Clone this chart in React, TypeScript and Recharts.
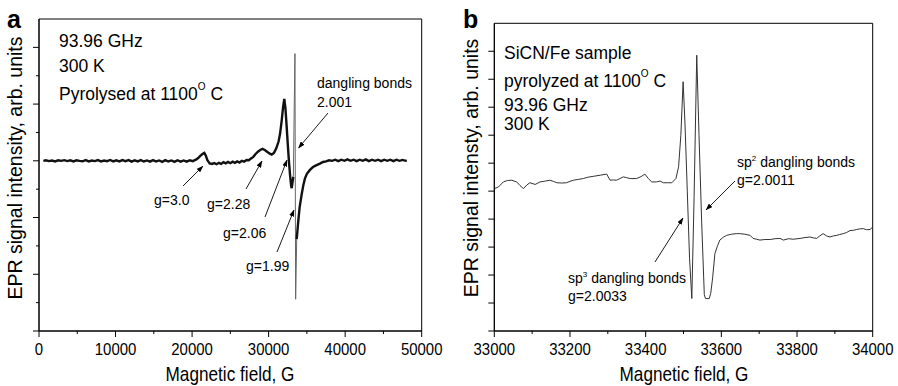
import React from "react";
import { LineChart, Line, XAxis, YAxis, ReferenceArea } from "recharts";

const FONT = "'Liberation Sans', Arial, Helvetica, sans-serif";

// panel a: full sweep, field (G) vs signal (arb.)
const sweepBeforeSpike: [number, number][] = [
  [570, 3.0], [900, 3.01], [1300, 2.995], [1700, 3.005], [2100, 2.99], [2500, 3.01], [2900, 3.0],
  [3300, 3.012], [3700, 2.995], [4100, 3.008], [4500, 2.99], [4900, 3.01], [5300, 3.0], [5700, 2.992],
  [6100, 3.012], [6500, 2.99], [6900, 3.006], [7300, 2.995], [7700, 3.012], [8100, 2.99], [8500, 3.006],
  [8900, 2.994], [9300, 3.015], [9700, 2.99], [10100, 3.008], [10500, 2.99], [10900, 3.012], [11300, 2.994],
  [11700, 3.012], [12100, 2.985], [12500, 3.008], [12900, 2.99], [13300, 3.012], [13700, 2.988], [14100, 3.006],
  [14500, 2.985], [14900, 3.012], [15300, 2.988], [15700, 3.006], [16100, 2.982], [16500, 3.012], [16900, 2.988],
  [17300, 3.006], [17700, 2.982], [18100, 3.01], [18500, 2.985], [18900, 3.006], [19300, 2.985], [19700, 3.01],
  [20100, 2.995], [20500, 3.02], [20800, 3.05], [21100, 3.09], [21400, 3.125], [21600, 3.14], [21800, 3.09],
  [22000, 3.01], [22300, 2.955], [22600, 2.945], [22900, 2.96], [23200, 2.94], [23500, 2.965], [23800, 2.945],
  [24100, 2.975], [24400, 2.955], [24700, 2.98], [25000, 2.958], [25300, 2.985], [25600, 2.965], [25900, 2.99],
  [26200, 2.97], [26500, 3.0], [26800, 2.985], [27100, 3.015], [27400, 3.01], [27700, 3.04], [28000, 3.07],
  [28300, 3.12], [28600, 3.16], [28900, 3.19], [29200, 3.21], [29500, 3.19], [29800, 3.16], [30100, 3.13],
  [30400, 3.11], [30700, 3.14], [31000, 3.22], [31300, 3.34], [31500, 3.48], [31700, 3.7], [31900, 3.96],
  [32050, 4.09], [32200, 3.92], [32350, 3.62], [32500, 3.3], [32650, 3.0], [32800, 2.75], [32950, 2.55],
  [33020, 2.52], [33120, 2.62], [33230, 2.72],
];
const sweepSpike: [number, number][] = [
  [33230, 2.72], [33440, 4.89], [33530, 0.56], [33670, 1.62],
];
const sweepAfterSpike: [number, number][] = [
  [33670, 1.62], [33850, 1.9], [34050, 2.18], [34320, 2.41], [34550, 2.58], [34750, 2.69], [35000, 2.77],
  [35400, 2.84], [35800, 2.89], [36200, 2.92], [36700, 2.95], [37100, 2.98], [37500, 2.99], [37900, 3.01],
  [38300, 3.0], [38700, 3.02], [39100, 2.995], [39500, 3.02], [39900, 3.0], [40300, 3.025], [40700, 3.0],
  [41100, 3.02], [41500, 2.995], [41900, 3.02], [42300, 3.0], [42700, 3.025], [43100, 2.995], [43500, 3.02],
  [43900, 3.0], [44300, 3.02], [44700, 2.995], [45100, 3.02], [45500, 3.0], [45900, 3.02], [46300, 2.995],
  [46700, 3.02], [47100, 3.0], [47500, 3.015], [47900, 3.0], [48050, 3.01],
];

// panel b: narrow sweep around g = 2
const narrowTrace: [number, number][] = [
  [33000, 5.09], [33011, 5.15], [33024, 5.33], [33035, 5.38], [33046, 5.39], [33059, 5.33], [33068, 5.2],
  [33077, 5.09], [33086, 5.22], [33094, 5.3], [33108, 5.24], [33121, 5.33], [33135, 5.36], [33147, 5.39],
  [33156, 5.35], [33165, 5.3], [33178, 5.29], [33191, 5.3], [33200, 5.35], [33209, 5.39], [33222, 5.42],
  [33235, 5.45], [33248, 5.5], [33262, 5.53], [33280, 5.57], [33297, 5.61], [33306, 5.39], [33315, 5.4],
  [33323, 5.39], [33332, 5.45], [33341, 5.51], [33350, 5.48], [33359, 5.45], [33376, 5.45], [33388, 5.52],
  [33398, 5.61], [33407, 5.45], [33416, 5.33], [33429, 5.33], [33438, 5.36], [33447, 5.3], [33458, 5.3],
  [33469, 5.3], [33480, 5.45], [33487, 5.87], [33493, 7.0], [33499, 8.91], [33504, 7.4], [33510, 5.0],
  [33516, 2.6], [33522, 1.16], [33528, 4.8], [33535, 9.86], [33541, 7.0], [33548, 3.9], [33555, 1.3],
  [33558, 1.16], [33568, 1.16], [33572, 1.35], [33577, 1.9], [33583, 2.77], [33590, 3.05], [33596, 3.25],
  [33605, 3.35], [33614, 3.42], [33627, 3.46], [33640, 3.48], [33649, 3.48], [33662, 3.46], [33676, 3.42],
  [33684, 3.31], [33693, 3.28], [33702, 3.25], [33715, 3.27], [33729, 3.27], [33742, 3.3], [33755, 3.31],
  [33764, 3.25], [33778, 3.3], [33790, 3.28], [33808, 3.31], [33821, 3.34], [33834, 3.36], [33843, 3.33],
  [33852, 3.31], [33860, 3.4], [33869, 3.48], [33878, 3.4], [33887, 3.36], [33896, 3.4], [33905, 3.42],
  [33913, 3.45], [33922, 3.48], [33931, 3.52], [33940, 3.59], [33949, 3.6], [33958, 3.63], [33966, 3.65],
  [33975, 3.66], [33984, 3.62], [33993, 3.63], [34000, 3.72],
];

const sweepXTicks = [0, 5000, 10000, 15000, 20000, 25000, 30000, 35000, 40000, 45000, 50000];
const sweepYTicks = [0, 0.5, 1, 1.5, 2, 2.5, 3, 3.5, 4, 4.5, 5];
const narrowXTicks = [33000, 33100, 33200, 33300, 33400, 33500, 33600, 33700, 33800, 33900, 34000];
const narrowYTicks = [0, 1, 2, 3, 4, 5, 6, 7, 8, 9, 10];

const toRows = (pts: [number, number][]) => pts.map(([field, signal]) => ({ field, signal }));

const bottomTick = (isMajor: (v: number) => boolean) => (props: any) => {
  const { x, y, payload } = props;
  const v = payload.value;
  const major = isMajor(v);
  return (
    <g>
      <line x1={x} x2={x} y1={y} y2={y + (major ? 6 : 3)} stroke="#000" />
      {major && (
        <text
          transform={`translate(${x} ${y + 24}) scale(0.88 1)`}
          textAnchor="middle"
          fontSize={17}
          fontFamily={FONT}
          fill="#000"
        >
          {v}
        </text>
      )}
    </g>
  );
};

const leftTick = (isMajor: (v: number) => boolean) => (props: any) => {
  const { x, y, payload } = props;
  const len = isMajor(payload.value) ? 6 : 3;
  return <line x1={x} x2={x - len} y1={y} y2={y} stroke="#000" />;
};

function Overlay() {
  const t17 = { fontSize: 17.5, fontFamily: FONT, fill: "#000" };
  const t14 = { fontSize: 14, fontFamily: FONT, fill: "#000" };
  const arrow = (x1: number, y1: number, x2: number, y2: number) => (
    <line x1={x1} y1={y1} x2={x2} y2={y2} stroke="#000" strokeWidth={0.9} markerEnd="url(#tip)" />
  );
  return (
    <svg
      width={898}
      height={386}
      style={{ position: "absolute", left: 0, top: 0, pointerEvents: "none" }}
    >
      <defs>
        <marker id="tip" markerWidth="7" markerHeight="5" refX="6.5" refY="2.5" orient="auto" markerUnits="userSpaceOnUse">
          <path d="M0,0 L7,2.5 L0,5 Z" fill="#000" />
        </marker>
      </defs>

      {/* panel a */}
      <text x={7} y={28} fontSize={25} fontWeight="bold" fontFamily={FONT}>a</text>
      <text x={59} y={47} {...t17}>93.96 GHz</text>
      <text x={59} y={72} {...t17}>300 K</text>
      <text x={59} y={100} {...t17}>
        Pyrolysed at 1100<tspan fontSize={10} dy={-10}>O</tspan><tspan dy={10}> C</tspan>
      </text>
      <text x={317} y={88} {...t14}>dangling bonds</text>
      <text x={317} y={107} {...t14}>2.001</text>
      <text x={154} y={205} {...t14}>g=3.0</text>
      <text x={207} y={209} {...t14}>g=2.28</text>
      <text x={223} y={238} {...t14}>g=2.06</text>
      <text x={246} y={271} {...t14}>g=1.99</text>
      {arrow(328, 113, 298.5, 148)}
      {arrow(183, 186, 203, 166)}
      {arrow(246, 189, 262, 161)}
      {arrow(265, 217, 287, 160)}
      {arrow(277, 252, 294, 210)}
      <text transform="translate(22 168) rotate(-90)" textAnchor="middle" fontSize={19.5} fontFamily={FONT}>
        EPR signal intensity, arb. units
      </text>
      <text transform="translate(230 381) scale(0.86 1)" textAnchor="middle" fontSize={20} fontFamily={FONT}>
        Magnetic field, G
      </text>

      {/* panel b */}
      <text x={463} y={28} fontSize={25} fontWeight="bold" fontFamily={FONT}>b</text>
      <text x={504} y={58.5} {...t17}>SiCN/Fe sample</text>
      <text x={504} y={87} {...t17}>
        pyrolyzed at 1100<tspan fontSize={10} dy={-10}>O</tspan><tspan dy={10}> C</tspan>
      </text>
      <text x={504} y={111} {...t17}>93.96 GHz</text>
      <text x={504} y={130} {...t17}>300 K</text>
      <text x={737} y={167} {...t14}>
        sp<tspan fontSize={8} dy={-6}>2</tspan><tspan dy={6}> dangling bonds</tspan>
      </text>
      <text x={737} y={185} {...t14}>g=2.0011</text>
      <text x={568} y={283} {...t14}>
        sp<tspan fontSize={8} dy={-6}>3</tspan><tspan dy={6}> dangling bonds</tspan>
      </text>
      <text x={568} y={301} {...t14}>g=2.0033</text>
      {arrow(735, 181, 706, 210)}
      {arrow(655, 262, 683, 218)}
      <text transform="translate(478 168) rotate(-90)" textAnchor="middle" fontSize={19.5} fontFamily={FONT}>
        EPR signal intensty, arb. units
      </text>
      <text transform="translate(684 381) scale(0.86 1)" textAnchor="middle" fontSize={20} fontFamily={FONT}>
        Magnetic field, G
      </text>
    </svg>
  );
}

export default function App() {
  return (
    <div style={{ position: "absolute", left: 0, top: 0, width: 898, height: 386, background: "#fff" }}>
      <div style={{ position: "absolute", left: 0, top: 0 }}>
        <LineChart width={450} height={386} margin={{ top: 19, right: 28.3, bottom: 0, left: 0 }}>
          <XAxis
            type="number"
            dataKey="field"
            domain={[0, 50000]}
            ticks={sweepXTicks}
            interval={0}
            height={55}
            tickSize={0}
            tickMargin={0}
            tickLine={false}
            axisLine={{ stroke: "#000" }}
            tick={bottomTick((v) => v % 10000 === 0)}
            allowDataOverflow
          />
          <YAxis
            type="number"
            domain={[0, 5.5]}
            ticks={sweepYTicks}
            interval={0}
            width={39}
            tickSize={0}
            tickMargin={0}
            tickLine={false}
            axisLine={{ stroke: "#000" }}
            tick={leftTick((v) => Number.isInteger(v))}
            allowDataOverflow
          />
          <ReferenceArea x1={0} x2={50000} y1={0} y2={5.5} fill="none" stroke="#000" strokeWidth={1} />
          <Line data={toRows(sweepBeforeSpike)} dataKey="signal" type="linear" stroke="#111" strokeWidth={2.4} dot={false} isAnimationActive={false} />
          <Line data={toRows(sweepSpike)} dataKey="signal" type="linear" stroke="#666" strokeWidth={1} dot={false} isAnimationActive={false} />
          <Line data={toRows(sweepAfterSpike)} dataKey="signal" type="linear" stroke="#111" strokeWidth={2.4} dot={false} isAnimationActive={false} />
        </LineChart>
      </div>
      <div style={{ position: "absolute", left: 450, top: 0 }}>
        <LineChart width={448} height={386} margin={{ top: 23.3, right: 25.3, bottom: 0, left: 0 }}>
          <XAxis
            type="number"
            dataKey="field"
            domain={[33000, 34000]}
            ticks={narrowXTicks}
            interval={0}
            height={55}
            tickSize={0}
            tickMargin={0}
            tickLine={false}
            axisLine={{ stroke: "#000" }}
            tick={bottomTick((v) => v % 200 === 0)}
            allowDataOverflow
          />
          <YAxis
            type="number"
            domain={[0, 11]}
            ticks={narrowYTicks}
            interval={0}
            width={44.3}
            tickSize={0}
            tickMargin={0}
            tickLine={false}
            axisLine={{ stroke: "#000" }}
            tick={leftTick(() => true)}
            allowDataOverflow
          />
          <ReferenceArea x1={33000} x2={34000} y1={0} y2={11} fill="none" stroke="#000" strokeWidth={1} />
          <Line data={toRows(narrowTrace)} dataKey="signal" type="linear" stroke="#333" strokeWidth={1} dot={false} isAnimationActive={false} />
        </LineChart>
      </div>
      <Overlay />
    </div>
  );
}
